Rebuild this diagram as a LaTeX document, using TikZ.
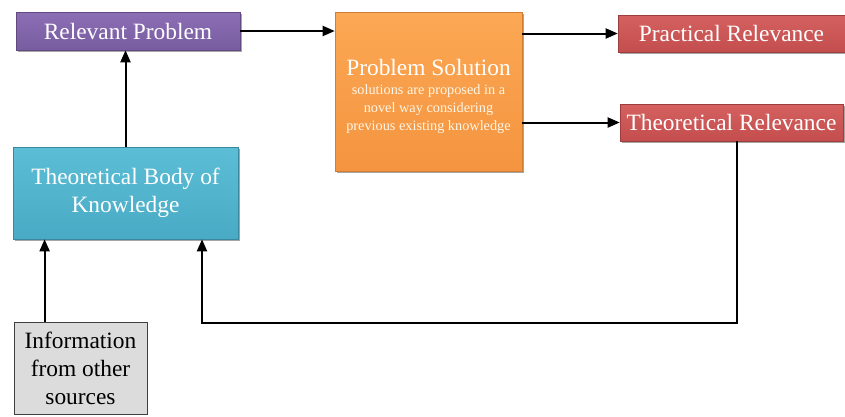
\documentclass[tikz,border=0pt]{standalone}
\usepackage{fontspec}
\setmainfont{Liberation Serif}
\usetikzlibrary{arrows.meta,shadows}

\definecolor{purpleA}{RGB}{140,110,180}
\definecolor{purpleB}{RGB}{120,92,160}
\definecolor{orangeA}{RGB}{252,168,84}
\definecolor{orangeB}{RGB}{244,148,64}
\definecolor{redA}{RGB}{212,96,96}
\definecolor{redB}{RGB}{196,78,78}
\definecolor{blueA}{RGB}{92,190,214}
\definecolor{blueB}{RGB}{72,170,196}
\definecolor{greyA}{RGB}{220,220,220}
\definecolor{cream}{RGB}{255,246,230}

% small three-line note set as a compact centred block, hung from its first line
\newcommand{\subnote}[1]{{\fontsize{14.3}{17.8}\selectfont\color{cream}%
  \renewcommand{\arraystretch}{1}\begin{tabular}[t]{@{}c@{}}#1\end{tabular}}}

\tikzset{
  box/.style={rectangle, inner sep=0pt, align=center, text=white,
    font=\fontsize{23.4}{28}\selectfont, line width=0.6pt,
    drop shadow={shadow xshift=1.6pt, shadow yshift=-1.6pt, fill=black, opacity=0.35}},
  purplebox/.style={box, draw=purpleB!80!black, top color=purpleA, bottom color=purpleB},
  orangebox/.style={box, draw=orangeB!85!black, top color=orangeA, bottom color=orangeB},
  redbox/.style={box, draw=redB!80!black, top color=redA, bottom color=redB},
  bluebox/.style={box, draw=blueB!80!black, top color=blueA, bottom color=blueB},
  greybox/.style={rectangle, inner sep=0pt, align=center, text=black,
    font=\fontsize{23.4}{28}\selectfont, draw=black!75, line width=0.8pt, fill=greyA},
  flow/.style={line width=2pt, -{Triangle[length=12pt,width=10pt]}},
}

\begin{document}
\begin{tikzpicture}[x=1pt,y=-1pt]
  \useasboundingbox (0,0) rectangle (845,416);

  \node[purplebox, minimum width=224pt, minimum height=38pt] (rp) at (128,31) {Relevant Problem};
  \node[orangebox, minimum width=187pt, minimum height=159pt] (ps) at (428.5,91.5)
    {\rule{0pt}{28pt}Problem Solution\\[-9pt]
     \subnote{solutions are proposed in a\\ novel way considering\\ previous existing knowledge}};
  \node[redbox, minimum width=227pt, minimum height=37pt] (pr) at (731.5,33.5) {Practical Relevance};
  \node[redbox, minimum width=223pt, minimum height=37pt] (tr) at (731.5,122.5) {Theoretical Relevance};
  \node[bluebox, minimum width=225pt, minimum height=92pt] (tbk) at (125.5,193)
    {Theoretical Body of\\Knowledge};
  \node[greybox, minimum width=133pt, minimum height=92pt] (info) at (80.5,368)
    {Information\\from other\\sources};

  \coordinate (fb) at (737,323);
  \coordinate (fbx) at (202,323);

  \draw[flow] (rp.east) -- (rp.east -| ps.west);
  \draw[flow] (ps.east |- pr.west) -- (pr.west);
  \draw[flow] (ps.east |- tr.west) -- (tr.west);
  \draw[flow] (tbk.north) -- (tbk.north |- rp.south);
  \draw[flow] ([xshift=31pt]info.north west) -- ([xshift=31pt]info.north west |- tbk.south);
  \draw[flow] (fb |- tr.south) |- (fbx) -- (fbx |- tbk.south);
\end{tikzpicture}
\end{document}
